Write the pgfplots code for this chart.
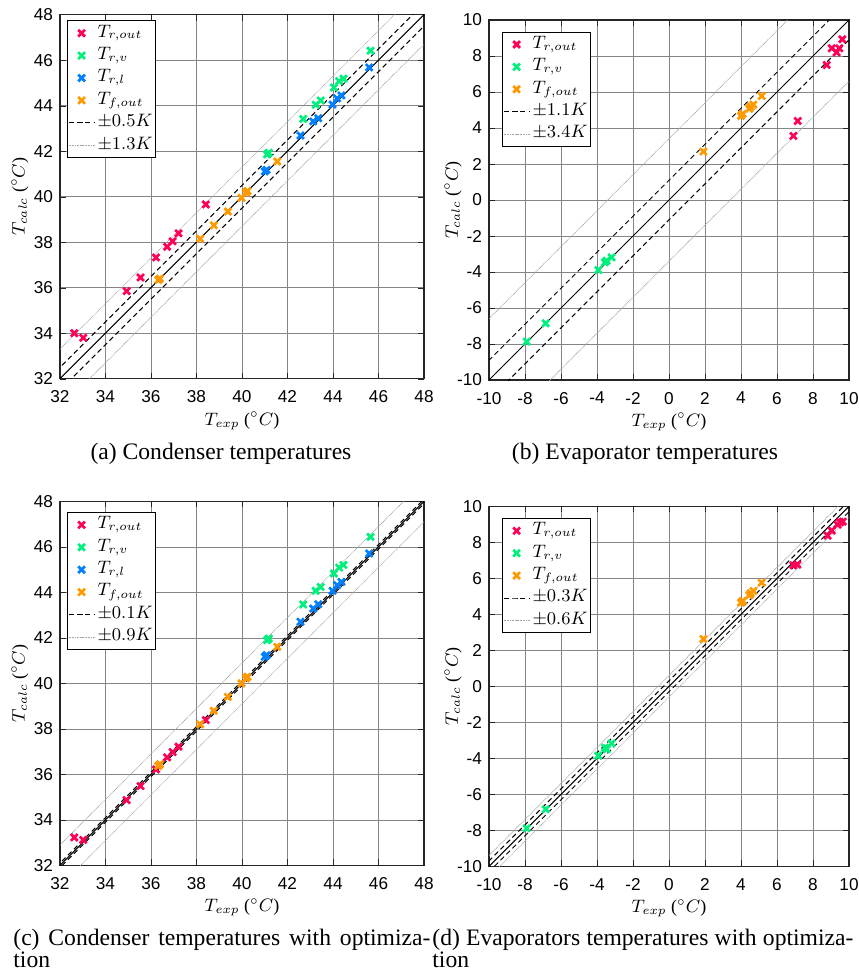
\documentclass[border=0pt]{standalone}
\usepackage{fontspec}
\setmainfont{Liberation Serif}
\setsansfont{Liberation Sans}
\usepackage{pgfplots}
\pgfplotsset{compat=1.18}

\definecolor{trout}{RGB}{255,0,85}
\definecolor{trv}{RGB}{0,240,125}
\definecolor{trl}{RGB}{0,128,255}
\definecolor{tfout}{RGB}{255,153,0}

\pgfplotsset{
  tempax/.style={
    scale only axis, width=182pt, height=182pt,
    grid=major, grid style={black!48, line width=0.4pt},
    axis line style={black!85, line width=0.6pt},
    tick align=inside, major tick length=3pt, tick style={black!85},
    /pgf/number format/assume math mode=true,
    ticklabel style={font=\sffamily\fontsize{8.6}{9}\selectfont},
    xticklabel style={yshift=-2.5pt},
    label style={font=\fontsize{9}{10}\selectfont},
    xlabel={$T_{exp}$ ($^\circ C$)},
    ylabel={$T_{calc}$ ($^\circ C$)},
    xlabel style={at={(axis description cs:0.5,0)}, anchor=base, yshift=-23.2pt},
    ylabel style={at={(axis description cs:-0.11,0.5)}, anchor=center},
    legend cell align=left,
    legend image code/.code={\draw[mark repeat=2,mark phase=2,#1]
      plot coordinates {(0pt,0pt) (6.5pt,0pt) (13pt,0pt)};},
    legend style={at={(0,1)}, anchor=north west, xshift=3.3pt, yshift=-2.9pt,
      draw=black, line width=0.5pt, fill=white, inner sep=0.5pt,
      font=\fontsize{9}{10}\selectfont,
      nodes={inner ysep=0.5pt, inner xsep=1.2pt, text height=7pt, text depth=3.2pt}},
  },
  pts/.style={only marks, mark=x, mark size=2.4pt, line width=1.35pt, color=#1},
  ident/.style={black, line width=0.5pt, forget plot},
  band1/.style={black, line width=0.5pt, dash pattern=on 2.5pt off 1.7pt},
  band2/.style={black!35, line width=0.4pt, dash pattern=on 0.4pt off 0.4pt},
}

\begin{document}
\begin{tikzpicture}
\path[use as bounding box] (0,0) rectangle (429pt,-487pt);

% (a) condenser
\begin{axis}[tempax, at={(30pt,-189.35pt)}, anchor=south west,
    xmin=32, xmax=48, ymin=32, ymax=48,
    xtick={32,34,...,48}, ytick={32,34,...,48}]
\addplot[ident] coordinates {(30,30) (50,50)};
\addplot[band1, forget plot] coordinates {(30,30.5) (50,50.5)};
\addplot[band1, forget plot] coordinates {(30,29.5) (50,49.5)};
\addplot[band2, forget plot] coordinates {(30,31.3) (50,51.3)};
\addplot[band2, forget plot] coordinates {(30,28.7) (50,48.7)};
\addplot[pts=trout] coordinates {(32.63,34.0) (33.02,33.8) (34.93,35.85)
  (35.54,36.45) (36.22,37.33) (36.71,37.8) (36.95,38.04) (37.21,38.39) (38.41,39.66)};
\addlegendentry{$T_{r,out}$}
\addplot[pts=trv] coordinates {(41.1,41.86) (41.18,41.93) (42.69,43.42)
  (43.24,44.04) (43.46,44.23) (44.04,44.8) (44.27,45.08) (44.46,45.19) (45.65,46.42)};
\addlegendentry{$T_{r,v}$}
\addplot[pts=trl] coordinates {(41.0,41.11) (41.08,41.18) (42.57,42.69)
  (43.13,43.31) (43.35,43.45) (43.98,44.05) (44.18,44.32) (44.37,44.45) (45.59,45.68)};
\addlegendentry{$T_{r,l}$}
\addplot[pts=tfout] coordinates {(36.32,36.34) (36.39,36.4) (38.16,38.15)
  (38.76,38.74) (39.38,39.35) (39.98,39.95) (40.17,40.17) (40.24,40.25) (41.55,41.55)};
\addlegendentry{$T_{f,out}$}
\addlegendimage{band1}
\addlegendentry{$\pm0.5K$}
\addlegendimage{band2}
\addlegendentry{$\pm1.3K$}
\end{axis}

% (b) evaporator
\begin{axis}[tempax, at={(244.5pt,-190pt)}, anchor=south west,
    width=180pt, height=180pt,
    xmin=-10, xmax=10, ymin=-10, ymax=10,
    xtick={-10,-8,...,10}, ytick={-10,-8,...,10},
    ylabel style={at={(axis description cs:-0.1,0.5)}},
    legend style={xshift=3pt, yshift=-3pt}]
\addplot[ident] coordinates {(-12,-12) (12,12)};
\addplot[band1, forget plot] coordinates {(-12,-10.9) (12,13.1)};
\addplot[band1, forget plot] coordinates {(-12,-13.1) (12,10.9)};
\addplot[band2, forget plot] coordinates {(-12,-8.6) (12,15.4)};
\addplot[band2, forget plot] coordinates {(-12,-15.4) (12,8.6)};
\addplot[pts=trout] coordinates {(6.91,3.56) (7.15,4.39) (8.76,7.5)
  (9.04,8.43) (9.31,8.2) (9.46,8.43) (9.63,8.93)};
\addlegendentry{$T_{r,out}$}
\addplot[pts=trv] coordinates {(-7.91,-7.87) (-6.85,-6.85) (-3.93,-3.89)
  (-3.56,-3.46) (-3.46,-3.37) (-3.19,-3.19)};
\addlegendentry{$T_{r,v}$}
\addplot[pts=tfout] coordinates {(1.91,2.69) (4.0,4.67) (4.09,4.78)
  (4.46,5.07) (4.54,5.19) (4.69,5.3) (5.15,5.78)};
\addlegendentry{$T_{f,out}$}
\addlegendimage{band1}
\addlegendentry{$\pm1.1K$}
\addlegendimage{band2}
\addlegendentry{$\pm3.4K$}
\end{axis}

% (c) condenser with optimization
\begin{axis}[tempax, at={(30pt,-432.7pt)}, anchor=south west,
    xmin=32, xmax=48, ymin=32, ymax=48,
    xtick={32,34,...,48}, ytick={32,34,...,48},
    legend style={yshift=-2.5pt}]
\addplot[ident] coordinates {(30,30) (50,50)};
\addplot[band1, forget plot] coordinates {(30,30.1) (50,50.1)};
\addplot[band1, forget plot] coordinates {(30,29.9) (50,49.9)};
\addplot[band2, forget plot] coordinates {(30,30.9) (50,50.9)};
\addplot[band2, forget plot] coordinates {(30,29.1) (50,49.1)};
\addplot[pts=trout] coordinates {(32.63,33.23) (33.02,33.12) (34.93,34.87)
  (35.54,35.49) (36.22,36.22) (36.71,36.75) (36.95,36.98) (37.21,37.22) (38.41,38.39)};
\addlegendentry{$T_{r,out}$}
\addplot[pts=trv] coordinates {(41.1,41.9) (41.18,41.97) (42.69,43.47)
  (43.24,44.07) (43.46,44.24) (44.04,44.83) (44.27,45.09) (44.46,45.21) (45.65,46.44)};
\addlegendentry{$T_{r,v}$}
\addplot[pts=trl] coordinates {(41.0,41.17) (41.08,41.24) (42.57,42.71)
  (43.13,43.29) (43.35,43.48) (43.98,44.07) (44.18,44.32) (44.37,44.46) (45.59,45.71)};
\addlegendentry{$T_{r,l}$}
\addplot[pts=tfout] coordinates {(36.32,36.37) (36.39,36.45) (38.16,38.2)
  (38.76,38.8) (39.38,39.41) (39.98,40.0) (40.17,40.22) (40.24,40.29) (41.55,41.61)};
\addlegendentry{$T_{f,out}$}
\addlegendimage{band1}
\addlegendentry{$\pm0.1K$}
\addlegendimage{band2}
\addlegendentry{$\pm0.9K$}
\end{axis}

% (d) evaporator with optimization
\begin{axis}[tempax, at={(244.5pt,-433.15pt)}, anchor=south west,
    width=180pt, height=180pt,
    xmin=-10, xmax=10, ymin=-10, ymax=10,
    xtick={-10,-8,...,10}, ytick={-10,-8,...,10},
    ylabel style={at={(axis description cs:-0.1,0.5)}},
    legend style={xshift=3pt, yshift=-3pt}]
\addplot[ident] coordinates {(-12,-12) (12,12)};
\addplot[band1, forget plot] coordinates {(-12,-11.7) (12,12.3)};
\addplot[band1, forget plot] coordinates {(-12,-12.3) (12,11.7)};
\addplot[band2, forget plot] coordinates {(-12,-11.4) (12,12.6)};
\addplot[band2, forget plot] coordinates {(-12,-12.6) (12,11.4)};
\addplot[pts=trout] coordinates {(6.91,6.72) (7.13,6.76) (8.81,8.37)
  (9.04,8.65) (9.37,8.98) (9.5,9.11) (9.65,9.15)};
\addlegendentry{$T_{r,out}$}
\addplot[pts=trv] coordinates {(-7.91,-7.89) (-6.85,-6.83) (-3.93,-3.85)
  (-3.56,-3.41) (-3.46,-3.5) (-3.19,-3.17)};
\addlegendentry{$T_{r,v}$}
\addplot[pts=tfout] coordinates {(1.91,2.63) (4.0,4.65) (4.09,4.74)
  (4.46,5.06) (4.54,5.17) (4.69,5.3) (5.15,5.76)};
\addlegendentry{$T_{f,out}$}
\addlegendimage{band1}
\addlegendentry{$\pm0.3K$}
\addlegendimage{band2}
\addlegendentry{$\pm0.6K$}
\end{axis}

% sub-captions
\begin{scope}[every node/.style={inner sep=0pt, font=\fontsize{11.8}{11}\selectfont}]
\node[anchor=base] at (110.5pt,-229.7pt) {(a) Condenser temperatures};
\node[anchor=base] at (322.5pt,-229.7pt) {(b) Evaporator temperatures};
\node[anchor=base west] at (6.5pt,-472.5pt)
  {\makebox[208.5pt][s]{(c) Condenser temperatures with optimiza-}};
\node[anchor=base west] at (6.5pt,-483.5pt) {tion};
\node[anchor=base west] at (216pt,-472.5pt)
  {\makebox[210.5pt][s]{(d) Evaporators temperatures with optimiza-}};
\node[anchor=base west] at (216pt,-483.5pt) {tion};
\end{scope}
\end{tikzpicture}
\end{document}
